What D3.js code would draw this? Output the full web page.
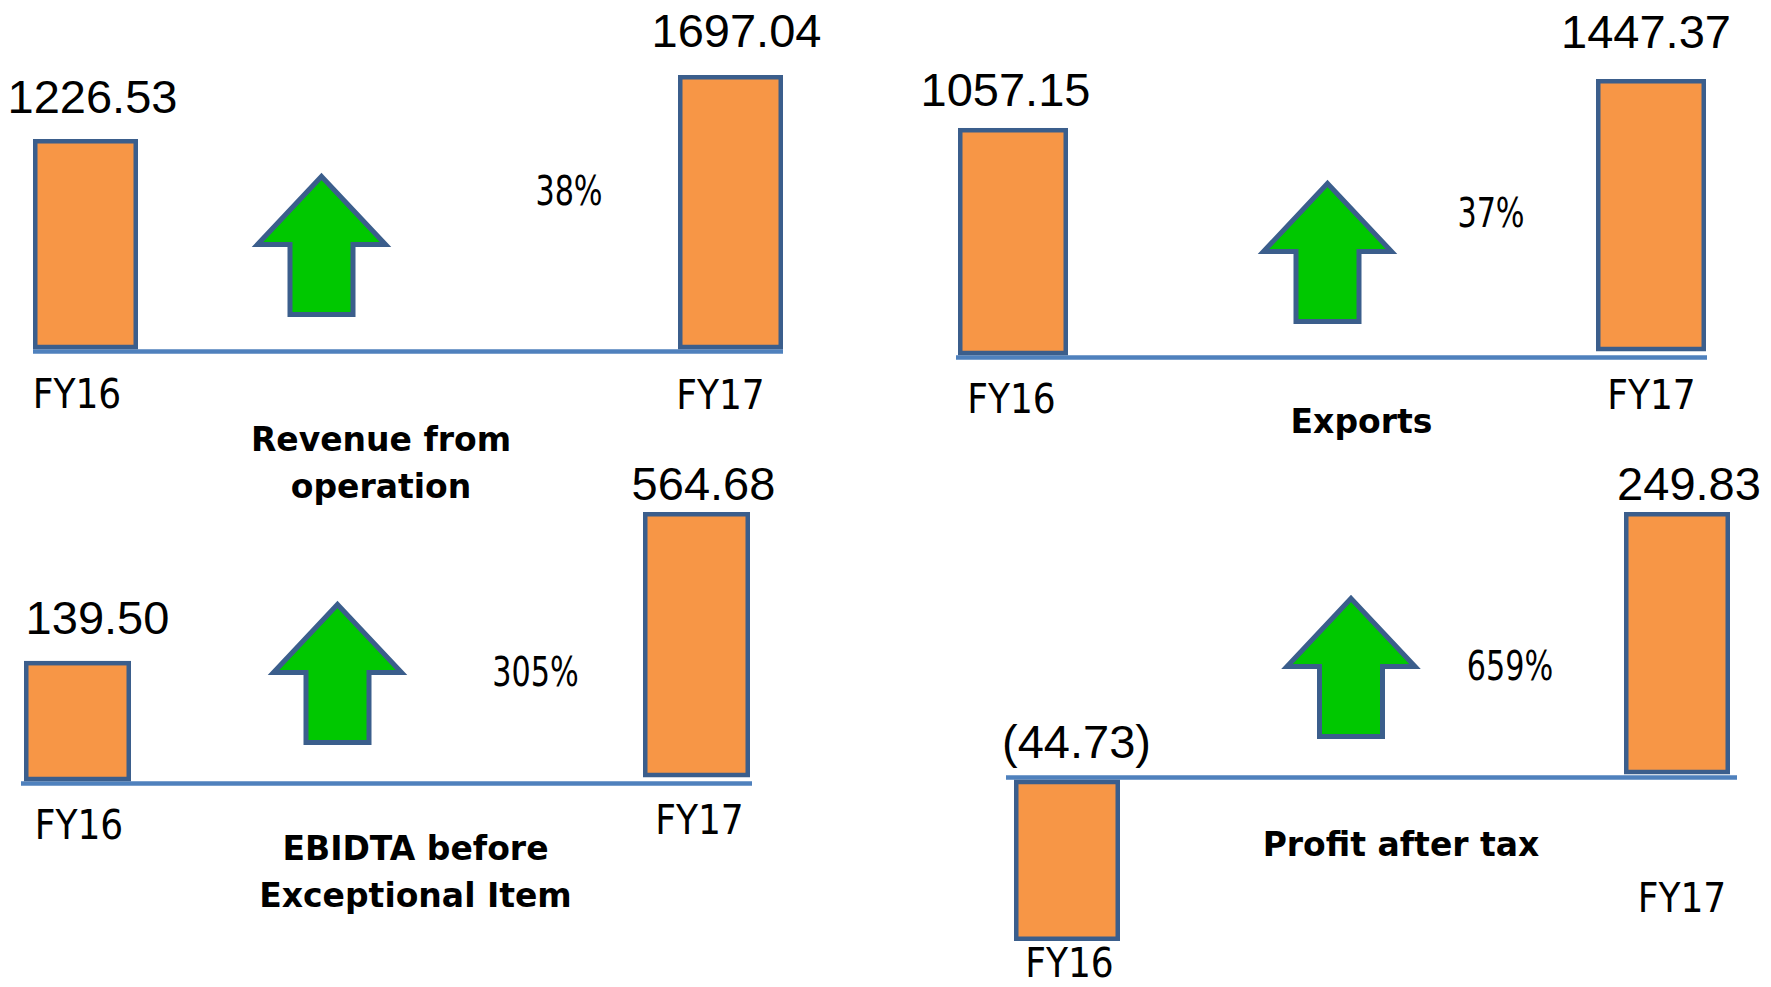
<!DOCTYPE html>
<html><head><meta charset="utf-8">
<script src="https://cdn.jsdelivr.net/npm/d3@7"></script>
<style>
html,body{margin:0;padding:0;background:#fff;}
svg{display:block}
</style></head><body>
<svg id="chart" width="1771" height="987"></svg>
<script>
// ---------------- data ----------------
const categories = ["FY16", "FY17"];
const metrics = ["Revenue from operation", "Exports", "EBIDTA before Exceptional Item", "Profit after tax"];
const titleLines = [["Revenue from", "operation"], ["Exports"], ["EBIDTA before", "Exceptional Item"], ["Profit after tax"]];
const fy16Values = [1226.53, 1057.15, 139.50, -44.73];
const fy17Values = [1697.04, 1447.37, 564.68, 249.83];
const growthPct = [38, 37, 305, 659];

// ---------------- layout (positions / sizes only) ----------------
const layout = [
  { xRange: [33, 783],   band: 105, baseY: 351.5, lineExt: [0, 0], top: 75,  floor: -319, lift: [0, 0],
    valDx: [7, 6],    valGap: [26, 28], catDx: [-8.5, -10], catY: [408, 409],
    pct: [569, 205], arrow: [321.5, 173], title: [381, 451] },
  { xRange: [958, 1706], band: 110, baseY: 357.5, lineExt: [2, 1], top: 79,  floor: -753, lift: [0, 4],
    valDx: [-7.5, -5], valGap: [22, 31], catDx: [-1.5, 0.5], catY: [413, 409],
    pct: [1491, 227], arrow: [1327.5, 180], title: [1361.5, 433] },
  { xRange: [24, 750],   band: 107, baseY: 783.5, lineExt: [3, 2], top: 512, floor: -204, lift: [0, 4],
    valDx: [20, 7],   valGap: [27, 12], catDx: [1.5, 3], catY: [839, 834],
    pct: [535.5, 686], arrow: [337.5, 601], title: [415.5, 860] },
  { xRange: [1014, 1730], band: 106, baseY: 777.5, lineExt: [8, 7], top: 512, bottom: 941, lift: [0, 1],
    valDx: [9.5, 12], valGap: [19.5, 12], catDx: [2.5, 5], catY: [977, 912],
    pct: [1510, 680], arrow: [1351, 595], title: [1401, 856] }
];

const COL_BAR = "#F79646", COL_EDGE = "#3B5E8C", COL_BASE = "#4F81BD", COL_ARROW = "#00C800";
const BAR_SW = 4.5, LINE_W = 4.5, ARROW_SW = 5;
const FONT_NUM = "'Liberation Sans', Arial, sans-serif";
const FONT_LBL = "'DejaVu Sans Condensed', 'DejaVu Sans', sans-serif";
const FONT_TTL = "'DejaVu Sans', Verdana, sans-serif";

const fmt = v => v < 0 ? "(" + d3.format(".2f")(-v) + ")" : d3.format(".2f")(v);

const svg = d3.select("#chart");

metrics.forEach((m, i) => {
  const L = layout[i];
  const vals = [fy16Values[i], fy17Values[i]];
  const g = svg.append("g").attr("class", "panel").attr("aria-label", m);

  const W = L.xRange[1] - L.xRange[0];
  const x = d3.scaleBand().domain(categories).range(L.xRange)
    .paddingInner(2 - W / (W - L.band)).paddingOuter(0);

  const hasNeg = d3.min(vals) < 0;
  const y = hasNeg
    ? d3.scaleLinear().domain([d3.min(vals), 0, d3.max(vals)]).range([L.bottom, L.baseY, L.top])
    : d3.scaleLinear().domain([L.floor, d3.max(vals)]).range([L.baseY - LINE_W / 2, L.top]);

  // baseline
  g.append("line")
    .attr("x1", L.xRange[0] - L.lineExt[0]).attr("x2", L.xRange[1] + L.lineExt[1])
    .attr("y1", L.baseY).attr("y2", L.baseY)
    .attr("stroke", COL_BASE).attr("stroke-width", LINE_W);

  const data = categories.map((c, j) => ({ c, j, v: vals[j] }));

  // bars (outer box -> inset by half stroke)
  const box = d => {
    const x0 = x(d.c), x1 = x(d.c) + x.bandwidth();
    let y0, y1;
    if (d.v >= 0) { y0 = y(d.v); y1 = L.baseY - LINE_W / 2 - L.lift[d.j]; }
    else { y0 = L.baseY + LINE_W / 2; y1 = y(d.v); }
    return { x0, x1, y0, y1 };
  };
  g.selectAll("rect.bar").data(data).join("rect").attr("class", "bar")
    .attr("x", d => box(d).x0 + BAR_SW / 2)
    .attr("y", d => box(d).y0 + BAR_SW / 2)
    .attr("width", d => box(d).x1 - box(d).x0 - BAR_SW)
    .attr("height", d => box(d).y1 - box(d).y0 - BAR_SW)
    .attr("fill", COL_BAR).attr("stroke", COL_EDGE).attr("stroke-width", BAR_SW);

  // value labels
  g.selectAll("text.val").data(data).join("text").attr("class", "val")
    .attr("x", d => x(d.c) + x.bandwidth() / 2 + L.valDx[d.j])
    .attr("y", d => d.v >= 0 ? y(d.v) - L.valGap[d.j] : L.baseY - L.valGap[d.j])
    .attr("text-anchor", "middle")
    .style("font-family", FONT_NUM).style("font-size", "47px").attr("fill", "#000")
    .text(d => fmt(d.v));

  // category labels
  g.selectAll("text.cat").data(data).join("text").attr("class", "cat")
    .attr("x", d => x(d.c) + x.bandwidth() / 2 + L.catDx[d.j])
    .attr("y", d => L.catY[d.j])
    .attr("text-anchor", "middle")
    .style("font-family", FONT_LBL).style("font-stretch", "condensed").style("font-size", "40px").attr("fill", "#000")
    .text(d => d.c);

  // growth arrow (up when growth positive)
  const up = growthPct[i] >= 0;
  const [ax, at] = L.arrow;
  const tip = at + 3.5, sh = at + 71.5, bot = at + 141.5, hw = 64, sw = 31.5;
  const pts = [[ax, tip], [ax + hw, sh], [ax + sw, sh], [ax + sw, bot], [ax - sw, bot], [ax - sw, sh], [ax - hw, sh]];
  g.append("path")
    .attr("d", d3.line()(pts) + "Z")
    .attr("fill", COL_ARROW).attr("stroke", COL_EDGE).attr("stroke-width", ARROW_SW)
    .attr("stroke-linejoin", "miter").attr("stroke-miterlimit", 10)
    .attr("transform", up ? null : `rotate(180 ${ax} ${(tip + bot) / 2})`);

  // growth %
  g.append("text")
    .attr("transform", `translate(${L.pct[0]},${L.pct[1]}) scale(0.82,1)`)
    .attr("text-anchor", "middle")
    .style("font-family", FONT_LBL).style("font-stretch", "condensed").style("font-size", "41px").attr("fill", "#000")
    .text(growthPct[i] + "%");

  // title
  const t = g.append("text").attr("text-anchor", "middle")
    .style("font-family", FONT_TTL).style("font-weight", "bold").style("font-size", "33px").attr("fill", "#000");
  titleLines[i].forEach((line, k) => {
    t.append("tspan").attr("x", L.title[0]).attr("y", L.title[1] + k * 46.5).text(line);
  });
});
</script>
</body></html>
